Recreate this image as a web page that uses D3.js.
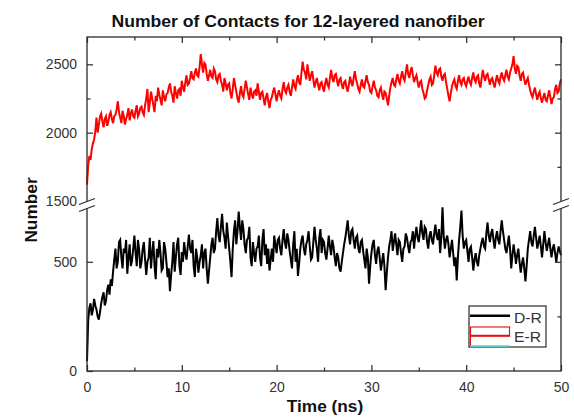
<!DOCTYPE html>
<html>
<head>
<meta charset="utf-8">
<script src="https://cdn.jsdelivr.net/npm/d3@7"></script>
<style>
  html, body { margin: 0; padding: 0; background: #fff; }
  svg { display: block; }
  text { font-family: "Liberation Sans", Arial, sans-serif; }
</style>
</head>
<body>
<svg id="chart" width="574" height="419"></svg>
<script>
// ---------------- data ----------------
const timeStep = 0.125; // ns between samples
const seriesNames = ["D-R", "E-R"];
const xTicks = [0, 10, 20, 30, 40, 50];
const xMinorTicks = [5, 15, 25, 35, 45];
const lowTicks = [0, 500];
const lowMinorTicks = [250];
const highTicks = [1500, 2000, 2500];
const highMinorTicks = [1750, 2250];

const drValues = [
  45, 230, 290, 310, 255, 280, 330, 300, 280, 250,
  235, 270, 310, 340, 360, 300, 320, 370, 395, 350,
  420, 390, 455, 510, 560, 470, 500, 590, 600, 520,
  470, 560, 540, 600, 445, 520, 580, 480, 505, 560,
  620, 540, 480, 600, 555, 470, 500, 560, 590, 510,
  440, 500, 520, 610, 470, 540, 595, 480, 420, 560,
  520, 600, 540, 460, 470, 590, 560, 500, 430, 470,
  365, 440, 500, 590, 455, 520, 580, 610, 480, 440,
  545, 500, 590, 540, 510, 570, 625, 560, 540, 600,
  480, 430, 560, 520, 450, 500, 530, 580, 470, 540,
  560, 470, 400, 460, 520, 580, 610, 540, 560, 640,
  700, 620, 590, 660, 720, 640, 610, 560, 680, 620,
  560, 500, 430, 560, 640, 690, 580, 640, 730, 660,
  600, 690, 650, 580, 540, 600, 610, 660, 520, 480,
  590, 540, 500, 560, 570, 620, 520, 480, 600, 650,
  530, 580, 490, 560, 460, 510, 560, 500, 620, 580,
  540, 600, 610, 560, 530, 600, 650, 590, 560, 630,
  600, 550, 510, 470, 580, 640, 500, 560, 435, 490,
  560, 600, 620, 560, 530, 580, 600, 640, 570, 510,
  520, 590, 660, 600, 560, 500, 610, 650, 540, 600,
  590, 540, 510, 560, 620, 570, 530, 600, 570, 520,
  480, 540, 520, 470, 455, 500, 540, 580, 610, 650,
  690, 620, 580, 640, 650, 600, 560, 610, 620, 560,
  540, 590, 600, 550, 510, 470, 560, 520, 400, 480,
  540, 580, 600, 530, 490, 550, 570, 520, 460, 500,
  540, 480, 370, 450, 520, 570, 600, 640, 550, 590,
  630, 580, 530, 600, 590, 540, 500, 560, 570, 630,
  610, 570, 540, 590, 600, 640, 560, 620, 660, 610,
  590, 640, 690, 630, 600, 660, 650, 590, 560, 620,
  640, 600, 580, 630, 670, 620, 600, 650, 540, 610,
  750, 620, 560, 600, 620, 580, 520, 560, 600, 540,
  480, 520, 415, 520, 600, 660, 735, 620, 560, 590,
  600, 550, 500, 560, 570, 520, 460, 510, 540, 500,
  480, 530, 560, 590, 610, 570, 560, 630, 680, 620,
  590, 630, 650, 600, 560, 610, 640, 600, 580, 640,
  690, 640, 600, 560, 540, 580, 620, 560, 470, 530,
  580, 540, 490, 530, 560, 500, 450, 490, 520, 470,
  410, 480, 560, 600, 640, 590, 570, 620, 660, 610,
  560, 590, 620, 570, 520, 580, 640, 590, 550, 580,
  610, 560, 520, 560, 580, 540, 500, 540, 570, 550,
  530
];

const erValues = [
  1620, 1760, 1830, 1800, 1880, 1920, 1950, 2010, 2110, 2000,
  2060, 2120, 2140, 2080, 2040, 2100, 2120, 2050, 2080, 2130,
  2150, 2100, 2070, 2120, 2130, 2170, 2230, 2150, 2110, 2070,
  2160, 2120, 2060, 2100, 2130, 2180, 2090, 2140, 2170, 2120,
  2110, 2160, 2200, 2120, 2140, 2180, 2190, 2150, 2130, 2200,
  2250, 2320, 2150, 2220, 2300, 2250, 2200, 2150, 2270, 2230,
  2330, 2280, 2240, 2200, 2310, 2260, 2230, 2280, 2290, 2330,
  2360, 2300, 2270, 2220, 2340, 2290, 2250, 2310, 2320, 2270,
  2380, 2330, 2300, 2370, 2420, 2350, 2360, 2400, 2450, 2400,
  2390, 2440, 2470, 2420, 2410, 2480, 2575, 2500, 2440, 2510,
  2500, 2430, 2380, 2420, 2460, 2410, 2400, 2470, 2450, 2390,
  2370, 2420, 2430, 2380, 2350, 2300, 2400, 2360, 2310, 2350,
  2360, 2290, 2250, 2320, 2400, 2350, 2300, 2250, 2220, 2290,
  2340, 2280, 2260, 2320, 2380, 2330, 2280, 2240, 2330, 2280,
  2250, 2300, 2310, 2270, 2360, 2300, 2240, 2290, 2300, 2250,
  2200, 2260, 2290, 2230, 2180, 2240, 2260, 2300, 2330, 2280,
  2230, 2280, 2310, 2270, 2250, 2320, 2370, 2310, 2290, 2330,
  2350, 2300, 2270, 2330, 2390, 2340, 2320, 2380, 2420, 2370,
  2350, 2440, 2520, 2460, 2440, 2390, 2500, 2440, 2380, 2420,
  2450, 2390, 2330, 2370, 2400, 2350, 2310, 2360, 2370, 2330,
  2300, 2360, 2400, 2350, 2330, 2400, 2460, 2400, 2370, 2420,
  2430, 2380, 2340, 2390, 2400, 2350, 2320, 2370, 2380, 2330,
  2300, 2350, 2410, 2370, 2340, 2400, 2450, 2390, 2360, 2320,
  2300, 2350, 2390, 2340, 2330, 2380, 2420, 2370, 2350, 2300,
  2290, 2340, 2380, 2330, 2310, 2270, 2260, 2310, 2330, 2280,
  2240, 2300, 2290, 2250, 2200, 2270, 2330, 2370, 2400, 2350,
  2340, 2390, 2430, 2380, 2360, 2410, 2450, 2400, 2380, 2440,
  2500, 2430, 2400, 2450, 2480, 2420, 2370, 2400, 2420, 2370,
  2330, 2370, 2380, 2320, 2290, 2250, 2260, 2310, 2350, 2390,
  2410, 2350, 2360, 2420, 2490, 2440, 2420, 2460, 2470, 2410,
  2380, 2420, 2430, 2370, 2320, 2270, 2230, 2290, 2340, 2370,
  2390, 2340, 2320, 2380, 2420, 2370, 2350, 2390, 2400, 2360,
  2340, 2380, 2410, 2370, 2350, 2400, 2440, 2390, 2370, 2410,
  2420, 2360, 2330, 2400, 2460, 2410, 2380, 2420, 2430, 2390,
  2350, 2390, 2400, 2360, 2330, 2380, 2420, 2380, 2360, 2410,
  2440, 2400, 2380, 2420, 2460, 2410, 2390, 2440, 2470, 2500,
  2560, 2470, 2430, 2490, 2480, 2420, 2380, 2430, 2440, 2390,
  2350, 2380, 2400, 2350, 2310, 2280, 2260, 2300, 2330, 2280,
  2240, 2280, 2300, 2250, 2220, 2260, 2290, 2240, 2230, 2270,
  2310, 2260, 2210, 2250, 2260, 2320, 2350, 2290, 2300, 2360,
  2390
];

// ---------------- layout ----------------
const svg = d3.select("#chart");
const L = 87, R = 561, T = 37, B = 371;
const breakLowTop = 205, breakHighBottom = 201;

const x = d3.scaleLinear().domain([0, 50]).range([L, R]);
const yLow = d3.scaleLinear().domain([0, 760]).range([B, breakLowTop]);
const yHigh = d3.scaleLinear().domain([1500, 2700]).range([breakHighBottom, T]);

const axisColor = "#2a2a2a";
const labelColor = "#333";

// ---------------- data lines ----------------
const lineLow = d3.line().x((d, i) => x(i * timeStep)).y(d => yLow(d));
const lineHigh = d3.line().x((d, i) => x(i * timeStep)).y(d => yHigh(d));

svg.append("path").datum(erValues)
  .attr("d", lineHigh).attr("fill", "none")
  .attr("stroke", "#ff0000").attr("stroke-width", 2).attr("stroke-linejoin", "miter");

svg.append("path").datum(drValues)
  .attr("d", lineLow).attr("fill", "none")
  .attr("stroke", "#000").attr("stroke-width", 2).attr("stroke-linejoin", "miter");

// ---------------- frame ----------------
svg.append("rect").attr("x", L).attr("y", T).attr("width", R - L).attr("height", B - T)
  .attr("fill", "none").attr("stroke", axisColor).attr("stroke-width", 1.3);

function styleAxis(g) {
  g.select(".domain").remove();
  g.selectAll(".tick line").attr("stroke", axisColor).attr("stroke-width", 1.2);
  g.selectAll(".tick text").attr("fill", labelColor)
    .style("font-size", "14px").style("font-family", "'Liberation Sans', Arial, sans-serif");
}

// bottom
svg.append("g").attr("transform", `translate(0,${B})`)
  .call(d3.axisBottom(x).tickValues(xTicks).tickFormat(d3.format("d"))
    .tickSizeInner(-6).tickSizeOuter(0).tickPadding(11))
  .call(styleAxis);
svg.append("g").attr("transform", `translate(0,${B})`)
  .call(d3.axisBottom(x).tickValues(xMinorTicks).tickFormat("")
    .tickSizeInner(-3.5).tickSizeOuter(0))
  .call(styleAxis);
// top
svg.append("g").attr("transform", `translate(0,${T})`)
  .call(d3.axisTop(x).tickValues(xTicks).tickFormat("").tickSizeInner(-6).tickSizeOuter(0))
  .call(styleAxis);
svg.append("g").attr("transform", `translate(0,${T})`)
  .call(d3.axisTop(x).tickValues(xMinorTicks).tickFormat("").tickSizeInner(-3.5).tickSizeOuter(0))
  .call(styleAxis);

// left
const gLeftHigh = svg.append("g").attr("transform", `translate(${L},0)`)
  .call(d3.axisLeft(yHigh).tickValues(highTicks).tickFormat(d3.format("d"))
    .tickSizeInner(-6).tickSizeOuter(0).tickPadding(10))
  .call(styleAxis);
gLeftHigh.selectAll(".tick").filter(d => d === 1500).select("line").remove();
svg.append("g").attr("transform", `translate(${L},0)`)
  .call(d3.axisLeft(yHigh).tickValues([2250]).tickFormat("").tickSizeInner(-3.5).tickSizeOuter(0))
  .call(styleAxis);
svg.append("g").attr("transform", `translate(${L},0)`)
  .call(d3.axisLeft(yLow).tickValues(lowTicks).tickFormat(d3.format("d"))
    .tickSizeInner(-6).tickSizeOuter(0).tickPadding(10))
  .call(styleAxis);

// right
svg.append("g").attr("transform", `translate(${R},0)`)
  .call(d3.axisRight(yHigh).tickValues([2000, 2500]).tickFormat("").tickSizeInner(-6).tickSizeOuter(0))
  .call(styleAxis);
svg.append("g").attr("transform", `translate(${R},0)`)
  .call(d3.axisRight(yHigh).tickValues(highMinorTicks).tickFormat("").tickSizeInner(-3.5).tickSizeOuter(0))
  .call(styleAxis);
svg.append("g").attr("transform", `translate(${R},0)`)
  .call(d3.axisRight(yLow).tickValues([500]).tickFormat("").tickSizeInner(-6).tickSizeOuter(0))
  .call(styleAxis);
svg.append("g").attr("transform", `translate(${R},0)`)
  .call(d3.axisRight(yLow).tickValues(lowMinorTicks).tickFormat("").tickSizeInner(-3.5).tickSizeOuter(0))
  .call(styleAxis);

// axis breaks
function drawBreak(cx) {
  const g = svg.append("g");
  g.append("polygon")
    .attr("points", `${cx - 8},${breakHighBottom + 3.5} ${cx + 8},${breakHighBottom - 2.5} ${cx + 8},${breakLowTop + 0.5} ${cx - 8},${breakLowTop + 6.5}`)
    .attr("fill", "#fff");
  g.append("line").attr("x1", cx - 8).attr("y1", breakHighBottom + 3.5)
    .attr("x2", cx + 8).attr("y2", breakHighBottom - 2.5)
    .attr("stroke", axisColor).attr("stroke-width", 1.1);
  g.append("line").attr("x1", cx - 8).attr("y1", breakLowTop + 6.5)
    .attr("x2", cx + 8).attr("y2", breakLowTop + 0.5)
    .attr("stroke", axisColor).attr("stroke-width", 1.1);
}
drawBreak(L);
drawBreak(R);

// ---------------- legend ----------------
const lg = svg.append("g");
lg.append("rect").attr("x", 469).attr("y", 306).attr("width", 77).attr("height", 41)
  .attr("fill", "#fff").attr("stroke", axisColor).attr("stroke-width", 1.2);
lg.append("line").attr("x1", 470).attr("x2", 510).attr("y1", 315.7).attr("y2", 315.7)
  .attr("stroke", "#000").attr("stroke-width", 2.4);
lg.append("rect").attr("x", 470.5).attr("y", 327).attr("width", 39).attr("height", 8.7)
  .attr("fill", "none").attr("stroke", "#e01010").attr("stroke-width", 1.1);
lg.append("line").attr("x1", 470).attr("x2", 510).attr("y1", 335.7).attr("y2", 335.7)
  .attr("stroke", "#e01010").attr("stroke-width", 2);
lg.append("line").attr("x1", 470.5).attr("x2", 470.5).attr("y1", 327).attr("y2", 346)
  .attr("stroke", "#e01010").attr("stroke-width", 1.1);
lg.append("line").attr("x1", 470).attr("x2", 510).attr("y1", 346).attr("y2", 346)
  .attr("stroke", "#4fd8e0").attr("stroke-width", 1.6);
lg.selectAll("text.leg").data(seriesNames).enter().append("text")
  .attr("class", "leg")
  .attr("transform", (d, i) => `translate(514,${322.7 + i * 19}) scale(1.08,1)`)
  .attr("fill", labelColor).style("font-size", "14.5px")
  .text(d => d);

// ---------------- titles ----------------
svg.append("text")
  .attr("transform", "translate(298,27) scale(1.1,1)")
  .attr("text-anchor", "middle").style("font-size", "16px").style("font-weight", "bold")
  .attr("fill", "#111")
  .text("Number of Contacts for 12-layered nanofiber");

svg.append("text")
  .attr("transform", "translate(325,411.5) scale(1.08,1)")
  .attr("text-anchor", "middle").style("font-size", "16px").style("font-weight", "bold")
  .attr("fill", "#111")
  .text("Time (ns)");

svg.append("text")
  .attr("transform", "translate(37,210) rotate(-90) scale(1.08,1)")
  .attr("text-anchor", "middle").style("font-size", "16px").style("font-weight", "bold")
  .attr("fill", "#111")
  .text("Number");
</script>
</body>
</html>
